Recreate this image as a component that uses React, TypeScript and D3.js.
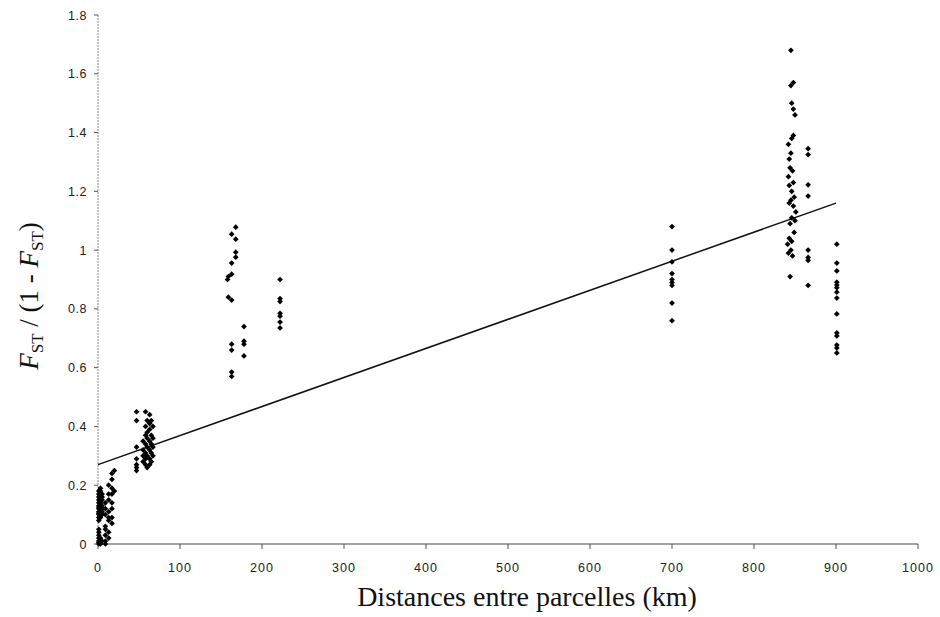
import React from "react";
import * as d3 from "d3";

// Pairwise genetic differentiation vs. geographic distance between plots
type Pt = [number, number];

const nearPlots: Pt[] = [
  [1, 0.0], [1, 0.005], [1, 0.01], [1, 0.02], [1, 0.03], [1, 0.04], [1, 0.05], [1, 0.08], [1, 0.09], [1, 0.1],
  [1, 0.105], [1, 0.11], [1, 0.12], [1, 0.125], [1, 0.13], [1, 0.14], [1, 0.15], [1, 0.16], [1, 0.17], [1, 0.18],
  [3, 0.0], [3, 0.02], [3, 0.09], [3, 0.1], [3, 0.11], [3, 0.12], [3, 0.13], [3, 0.14], [3, 0.15], [3, 0.16], [3, 0.18], [3, 0.19],
  [5, 0.01], [5, 0.1], [5, 0.11], [5, 0.12], [5, 0.13], [5, 0.15], [5, 0.16], [5, 0.17],
  [9, 0.0], [9, 0.01], [9, 0.03], [9, 0.05], [9, 0.06], [9, 0.1], [9, 0.12], [9, 0.14],
  [13, 0.02], [13, 0.04], [13, 0.08], [13, 0.09], [13, 0.11], [13, 0.15], [13, 0.17], [13, 0.2],
  [17, 0.07], [17, 0.09], [17, 0.12], [17, 0.14], [17, 0.17], [17, 0.19], [17, 0.22], [17, 0.24],
  [20, 0.18], [20, 0.25],
];

const plots50km: Pt[] = [
  [47, 0.45], [47, 0.42], [47, 0.33], [47, 0.29], [47, 0.27], [47, 0.26], [47, 0.25],
  [55, 0.35], [55, 0.32], [55, 0.3], [55, 0.28],
  [58, 0.45], [58, 0.4], [58, 0.37], [58, 0.34], [58, 0.31], [58, 0.29], [58, 0.27],
  [60, 0.42], [60, 0.38], [60, 0.36], [60, 0.33], [60, 0.3], [60, 0.26],
  [63, 0.44], [63, 0.41], [63, 0.39], [63, 0.35], [63, 0.32], [63, 0.29], [63, 0.27],
  [65, 0.42], [65, 0.37], [65, 0.34], [65, 0.31], [65, 0.28],
  [67, 0.4], [67, 0.36], [67, 0.33], [67, 0.3],
];

const plots160km: Pt[] = [
  [168, 1.078], [163, 1.054], [168, 1.037], [168, 0.993], [168, 0.976], [163, 0.956], [163, 0.918],
  [159, 0.91], [158, 0.9], [159, 0.84], [163, 0.83], [163, 0.68], [163, 0.66], [163, 0.585], [163, 0.57],
  [178, 0.74], [178, 0.69], [178, 0.68], [178, 0.64],
];

const plots220km: Pt[] = [
  [222, 0.9], [222, 0.835], [222, 0.825], [222, 0.785], [222, 0.775], [222, 0.755], [222, 0.735],
];

const plots700km: Pt[] = [
  [700, 1.08], [700, 1.0], [700, 0.96], [700, 0.92], [700, 0.9], [700, 0.89], [700, 0.88], [700, 0.82], [700, 0.76],
];

const plots840km: Pt[] = [
  [845, 1.68], [848, 1.57], [845, 1.56], [846, 1.5], [848, 1.48], [850, 1.46], [848, 1.39], [846, 1.38],
  [842, 1.36], [845, 1.33], [843, 1.31], [844, 1.28], [847, 1.27], [842, 1.25], [848, 1.23], [843, 1.22],
  [846, 1.2], [849, 1.18], [845, 1.17], [843, 1.16], [848, 1.15], [851, 1.13], [846, 1.11], [850, 1.1],
  [844, 1.09], [849, 1.06], [843, 1.04], [846, 1.03], [841, 1.02], [845, 1.0], [842, 0.99], [847, 0.98], [844, 0.91],
];

const plots866km: Pt[] = [
  [866, 1.345], [866, 1.325], [866, 1.222], [866, 1.184], [866, 1.0], [866, 0.975], [866, 0.965], [866, 0.88],
];

const plots900km: Pt[] = [
  [901, 1.02], [901, 0.956], [901, 0.929], [901, 0.891], [901, 0.881], [901, 0.872], [901, 0.857], [901, 0.837],
  [901, 0.783], [901, 0.718], [901, 0.708], [901, 0.677], [901, 0.667], [901, 0.65],
];

// Linear regression fitted across all pairs
const regression: Pt[] = [[0, 0.27], [900, 1.16]];

const xTicks = [0, 100, 200, 300, 400, 500, 600, 700, 800, 900, 1000];
const yTicks = [0, 0.2, 0.4, 0.6, 0.8, 1, 1.2, 1.4, 1.6, 1.8];

const W = 940;
const H = 617;
const left = 98;
const right = 918;
const top = 15;
const bottom = 544;

export default function App() {
  const x = d3.scaleLinear().domain([0, 1000]).range([left, right]);
  const y = d3.scaleLinear().domain([0, 1.8]).range([bottom, top]);
  const all = [
    ...nearPlots, ...plots50km, ...plots160km, ...plots220km,
    ...plots700km, ...plots840km, ...plots866km, ...plots900km,
  ];
  const marker = d3.symbol().type(d3.symbolDiamond2).size(21)()!;
  const line = d3.line<Pt>().x((d) => x(d[0])).y((d) => y(d[1]));
  const tickFont = "'Liberation Sans', Arial, sans-serif";
  const serif = "'Liberation Serif', 'Times New Roman', serif";

  return (
    <svg width={W} height={H} style={{ position: "absolute", left: 0, top: 0, background: "#fff" }}>
      {/* y axis */}
      <line x1={left} x2={left} y1={top} y2={bottom} stroke="#888" strokeWidth={1} strokeDasharray="2 1" />
      {yTicks.map((t) => (
        <g key={`y${t}`}>
          <line x1={left - 4} x2={left} y1={y(t)} y2={y(t)} stroke="#555" />
          <text x={87} y={y(t)} dy="0.36em" textAnchor="end" fontFamily={tickFont} fontSize={12.5} fill="#222" letterSpacing={0.5}>
            {String(t)}
          </text>
        </g>
      ))}
      {/* x axis */}
      <line x1={left} x2={right} y1={bottom} y2={bottom} stroke="#444" strokeWidth={1} />
      {xTicks.map((t) => (
        <g key={`x${t}`}>
          <line x1={x(t)} x2={x(t)} y1={bottom} y2={bottom + 5} stroke="#555" />
          <text x={x(t)} y={572} textAnchor="middle" fontFamily={tickFont} fontSize={12.5} fill="#222" letterSpacing={1}>
            {String(t)}
          </text>
        </g>
      ))}
      {/* regression line */}
      <path d={line(regression)!} fill="none" stroke="#111" strokeWidth={1.5} />
      {/* observations */}
      {all.map((d, i) => (
        <path key={i} d={marker} transform={`translate(${x(d[0])},${y(d[1])})`} fill="#000" />
      ))}
      {/* axis titles */}
      <text x={527} y={606} textAnchor="middle" fontFamily={serif} fontSize={28} fill="#111">
        Distances entre parcelles (km)
      </text>
      <text transform="translate(38,296) rotate(-90)" textAnchor="middle" fontFamily={serif} fontSize={27} fill="#111">
        <tspan fontStyle="italic">F</tspan>
        <tspan fontSize={17} dy={5}>ST</tspan>
        <tspan dy={-5}> / (1 - </tspan>
        <tspan fontStyle="italic">F</tspan>
        <tspan fontSize={17} dy={5}>ST</tspan>
        <tspan dy={-5}>)</tspan>
      </text>
    </svg>
  );
}
